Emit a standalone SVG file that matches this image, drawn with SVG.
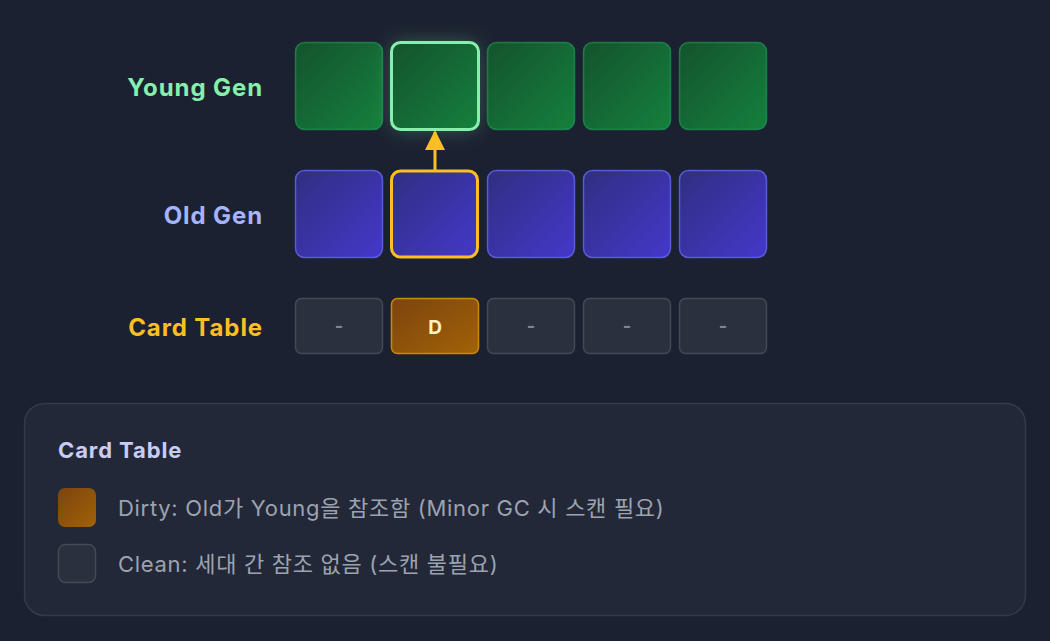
<svg xmlns="http://www.w3.org/2000/svg" width="1050" height="641" viewBox="0 0 1050 641">
<defs>
<linearGradient id="gYoung" x1="0" y1="0" x2="1" y2="1"><stop offset="0" stop-color="#14532d"/><stop offset="1" stop-color="#15803d"/></linearGradient>
<linearGradient id="gOld" x1="0" y1="0" x2="1" y2="1"><stop offset="0" stop-color="#312e81"/><stop offset="1" stop-color="#4338ca"/></linearGradient>
<linearGradient id="gDirty" x1="0" y1="0" x2="1" y2="1"><stop offset="0" stop-color="#7c440e"/><stop offset="1" stop-color="#a16207"/></linearGradient>
<filter id="glow" x="-50%" y="-50%" width="200%" height="200%"><feGaussianBlur stdDeviation="10"/></filter>
<marker id="ah" viewBox="0 0 10 10" refX="9" refY="5" markerWidth="20" markerHeight="22" markerUnits="userSpaceOnUse" orient="auto"><path d="M0,0 L10,5 L0,10 Z" fill="#fbbf24"/></marker>
</defs>
<style>
.lbl{font-family:Inter,"Noto Sans","Noto Sans CJK KR",sans-serif;font-weight:700;font-size:24px;letter-spacing:0.9px;text-anchor:end}
.young{fill:url(#gYoung);stroke:#22a55a;stroke-opacity:0.6;stroke-width:1.5}
.old{fill:url(#gOld);stroke:#6366f1;stroke-opacity:0.8;stroke-width:1.5}
.card{fill:#2a303d;stroke:#434957;stroke-width:1.5}
.dash{fill:#80868f}
.leg{font-family:Inter,"Noto Sans","Noto Sans CJK KR",sans-serif;font-size:22px;letter-spacing:0.7px;fill:#9ca3af}
</style>
<rect width="1050" height="641" fill="#1b2130"/>

<text class="lbl" x="263" y="96" fill="#86efac">Young Gen</text>
<text class="lbl" x="263" y="224" fill="#a5b4fc">Old Gen</text>
<text class="lbl" x="263" y="336" fill="#fbbf24">Card Table</text>

<g id="young">
<rect class="young" x="295.5" y="42.5" width="87" height="87" rx="9"/>
<rect x="391.5" y="42.5" width="87" height="87" rx="9" fill="#86efac" opacity="0.3" filter="url(#glow)"/>
<rect x="391.5" y="42.5" width="87" height="87" rx="9" fill="url(#gYoung)" stroke="#86efac" stroke-width="3"/>
<rect class="young" x="487.5" y="42.5" width="87" height="87" rx="9"/>
<rect class="young" x="583.5" y="42.5" width="87" height="87" rx="9"/>
<rect class="young" x="679.5" y="42.5" width="87" height="87" rx="9"/>
</g>

<g id="old">
<rect class="old" x="295.5" y="170.5" width="87" height="87" rx="9"/>
<rect x="391.5" y="171" width="86" height="86" rx="9" fill="url(#gOld)" stroke="#fbbf24" stroke-width="3"/>
<rect class="old" x="487.5" y="170.5" width="87" height="87" rx="9"/>
<rect class="old" x="583.5" y="170.5" width="87" height="87" rx="9"/>
<rect class="old" x="679.5" y="170.5" width="87" height="87" rx="9"/>
</g>

<g id="cards">
<rect class="card" x="295.5" y="298.5" width="87" height="55" rx="6"/>
<text x="339" y="332" font-family="Inter,'Noto Sans',sans-serif" font-size="18" font-weight="700" fill="#80868f" text-anchor="middle">-</text>
<rect x="391.5" y="298.5" width="87" height="55" rx="6" fill="url(#gDirty)" stroke="#ca8a04" stroke-width="1.5"/>
<text x="435" y="334" font-family="Inter,'Noto Sans',sans-serif" font-size="19" font-weight="700" fill="#fef3c7" text-anchor="middle">D</text>
<rect class="card" x="487.5" y="298.5" width="87" height="55" rx="6"/>
<text x="531" y="332" font-family="Inter,'Noto Sans',sans-serif" font-size="18" font-weight="700" fill="#80868f" text-anchor="middle">-</text>
<rect class="card" x="583.5" y="298.5" width="87" height="55" rx="6"/>
<text x="627" y="332" font-family="Inter,'Noto Sans',sans-serif" font-size="18" font-weight="700" fill="#80868f" text-anchor="middle">-</text>
<rect class="card" x="679.5" y="298.5" width="87" height="55" rx="6"/>
<text x="723" y="332" font-family="Inter,'Noto Sans',sans-serif" font-size="18" font-weight="700" fill="#80868f" text-anchor="middle">-</text>
</g>

<g id="connectors">
<line x1="435" y1="170" x2="435" y2="132" stroke="#fbbf24" stroke-width="3" marker-end="url(#ah)"/>
</g>

<g id="legend">
<rect x="24.5" y="403.5" width="1001" height="212" rx="20" fill="#232838" stroke="#343a4a" stroke-width="1.5"/>
<text x="58" y="458" font-family="Inter,'Noto Sans',sans-serif" font-size="22" font-weight="700" letter-spacing="0.9" fill="#c7cdf5">Card Table</text>
<rect x="58" y="488" width="38" height="39" rx="7" fill="url(#gDirty)"/>
<text class="leg" x="118" y="516">Dirty: Old가 Young을 참조함 (Minor GC 시 스캔 필요)</text>
<rect x="58.5" y="544.5" width="37" height="38" rx="7" fill="#2a303d" stroke="#434957" stroke-width="1.5"/>
<text class="leg" x="118" y="572">Clean: 세대 간 참조 없음 (스캔 불필요)</text>
</g>
</svg>
